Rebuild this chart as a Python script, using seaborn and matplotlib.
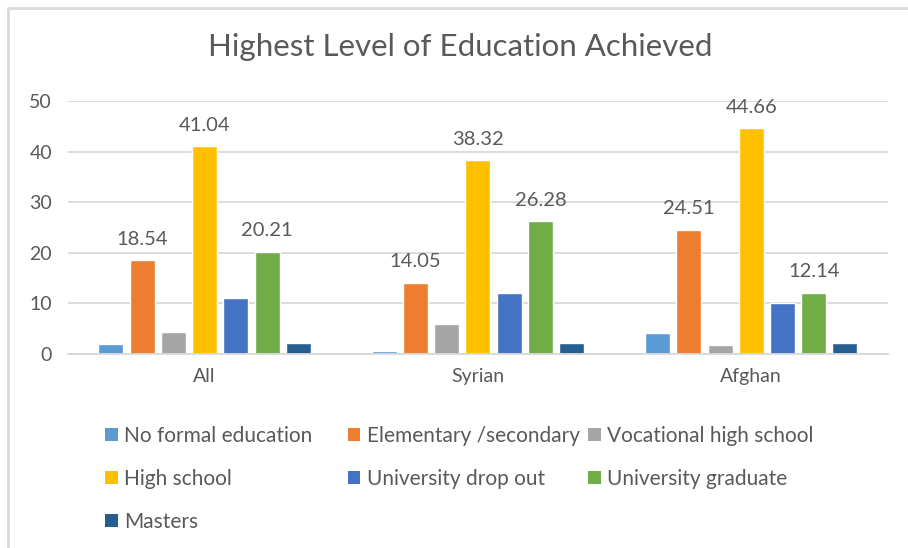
import pandas as pd
import seaborn as sns
import matplotlib.pyplot as plt
from matplotlib.patches import Patch
from matplotlib.lines import Line2D

# Data
groups = ["All", "Syrian", "Afghan"]
levels = ["No formal education", "Elementary /secondary", "Vocational high school",
          "High school", "University drop out", "University graduate", "Masters"]
no_formal = [2.0, 0.5, 4.1]
elementary = [18.54, 14.05, 24.51]
vocational = [4.4, 6.0, 1.8]
high_school = [41.04, 38.32, 44.66]
uni_dropout = [11.0, 12.0, 10.1]
uni_graduate = [20.21, 26.28, 12.14]
masters = [2.2, 2.2, 2.2]
colors = ["#5B9BD5", "#ED7D31", "#A5A5A5", "#FFC000", "#4472C4", "#70AD47", "#255E91"]
labelled = ["Elementary /secondary", "High school", "University graduate"]

series = [no_formal, elementary, vocational, high_school, uni_dropout, uni_graduate, masters]
rows = []
for level, vals in zip(levels, series):
    for g, v in zip(groups, vals):
        rows.append({"group": g, "level": level, "value": v})
df = pd.DataFrame(rows)

sns.set_style("white")
plt.rcParams["font.family"] = ["Lato", "DejaVu Sans"]
text_col = "#595959"

fig = plt.figure(figsize=(9.08, 5.48), dpi=100)
ax = fig.add_axes([0.0749, 0.354, 0.903, 0.4617])

sns.barplot(data=df, x="group", y="value", hue="level", order=groups, hue_order=levels,
            palette=colors, width=0.8, gap=0.2, saturation=1, legend=False, ax=ax)

for level, cont in zip(levels, ax.containers):
    if level in labelled:
        ax.bar_label(cont, fmt="%.2f", padding=9, fontsize=14.5, color=text_col)

ax.set_xlim(-0.5, 2.5)
ax.set_ylim(0, 50)
ax.set_yticks(range(0, 51, 10))
ax.yaxis.grid(True, color="#D9D9D9", linewidth=1.3)
ax.set_axisbelow(True)
for s in ["top", "right", "left"]:
    ax.spines[s].set_visible(False)
ax.spines["bottom"].set_color("#D9D9D9")
ax.spines["bottom"].set_linewidth(1.3)
ax.tick_params(axis="both", length=0, labelsize=14, colors=text_col)
ax.tick_params(axis="y", pad=11.5)
ax.tick_params(axis="x", pad=10)
ax.set_xlabel("")
ax.set_ylabel("")

fig.suptitle("Highest Level of Education Achieved", x=0.507, y=0.94,
             fontsize=22.5, color=text_col)

# legend laid out in three fixed columns like the original
handles = [Patch(facecolor=c, edgecolor="none") for c in colors]
col_x = [0.116, 0.383, 0.648]
for j, x0 in enumerate(col_x):
    idx = list(range(j, len(levels), 3))
    fig.legend([handles[i] for i in idx], [levels[i] for i in idx],
               loc="upper left", bbox_to_anchor=(x0, 0.223), frameon=False,
               fontsize=15, labelcolor=text_col, handlelength=0.6, handleheight=0.6,
               handletextpad=0.3, labelspacing=1.1, borderpad=0, borderaxespad=0)

# chart border on top and left
fig.add_artist(Line2D([0.009, 1.0], [0.985, 0.985], color="#D9D9D9", linewidth=2,
                      transform=fig.transFigure))
fig.add_artist(Line2D([0.009, 0.009], [0.0, 0.985], color="#D9D9D9", linewidth=2,
                      transform=fig.transFigure))

fig.savefig("out.png", dpi=100)
